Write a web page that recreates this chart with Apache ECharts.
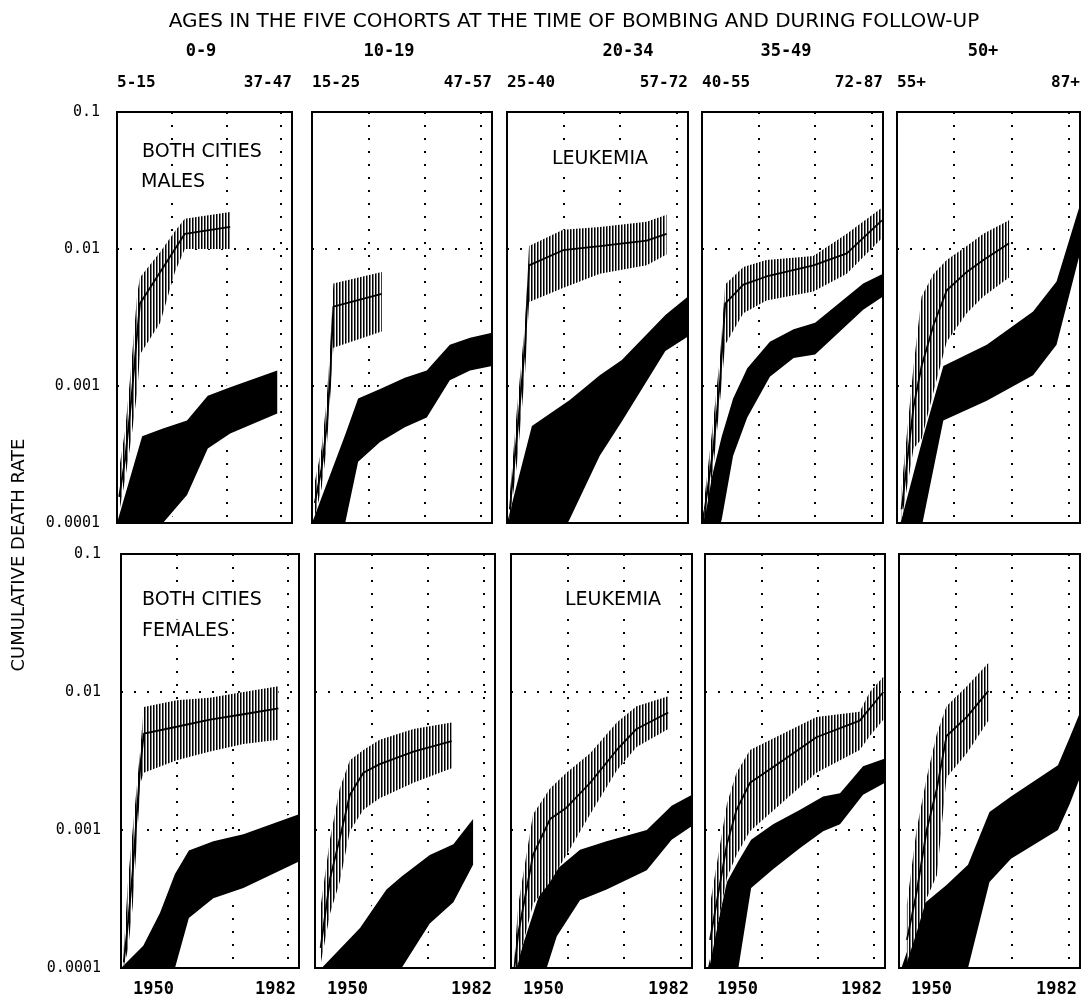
<!DOCTYPE html>
<html><head><meta charset="utf-8">
<script src="https://cdn.jsdelivr.net/npm/echarts@6/dist/echarts.min.js"></script>
<style>html,body{margin:0;padding:0;background:#fff}#chart{width:1084px;height:1003px}</style>
</head><body><div id="chart"></div>
<script>
// ---------- categories & tick labels ----------
const cohorts = ['0-9', '10-19', '20-34', '35-49', '50+'];
const agesAt1950 = ['5-15', '15-25', '25-40', '40-55', '55+'];
const agesAt1982 = ['37-47', '47-57', '57-72', '72-87', '87+'];
const yearLabels = [1950, 1982];
const yTickLabels = ['0.0001', '0.001', '0.01', '0.1'];

// ---------- MALES (top row) ----------
// hatched band = observed cumulative rate with confidence limits; black band = reference range
const M09_obsYears = [1950.4, 1951.5, 1952.6, 1953.7, 1954.2, 1957.9, 1960.6, 1962.4, 1970.7];
const M09_obsLow   = [1.2e-4, 2.1e-4, 4.1e-4, 9.1e-4, 1.7e-3, 2.9e-3, 6.8e-3, 1.0e-2, 1.0e-2];
const M09_obsMid   = [1.55e-4, 2.95e-4, 7.8e-4, 2.45e-3, 4.0e-3, 6.8e-3, 1.0e-2, 1.29e-2, 1.45e-2];
const M09_obsHigh  = [2.5e-4, 4.8e-4, 1.4e-3, 4.7e-3, 6.2e-3, 9.5e-3, 1.35e-2, 1.66e-2, 1.86e-2];
const M09_refYears = [1950, 1954.6, 1958.4, 1962.8, 1966.6, 1970.7, 1979.3];
const M09_refHigh  = [1.0e-4, 4.3e-4, 4.9e-4, 5.6e-4, 8.5e-4, 9.8e-4, 1.3e-3];
const M09_refLow   = [2e-5, 5e-5, 1.0e-4, 1.6e-4, 3.5e-4, 4.5e-4, 6.3e-4];

const M1019_obsYears = [1950.5, 1951.7, 1952.6, 1953.2, 1953.8, 1962.4];
const M1019_obsLow   = [1.1e-4, 1.8e-4, 3.5e-4, 7.9e-4, 1.9e-3, 2.5e-3];
const M1019_obsMid   = [1.4e-4, 2.5e-4, 5.0e-4, 1.1e-3, 3.8e-3, 4.7e-3];
const M1019_obsHigh  = [2.0e-4, 3.5e-4, 7.9e-4, 1.8e-3, 5.6e-3, 6.8e-3];
const M1019_refYears = [1950, 1955.9, 1958.2, 1962.1, 1966.5, 1970.4, 1974.5, 1978.1, 1982];
const M1019_refHigh  = [1.0e-4, 4.4e-4, 8.1e-4, 9.5e-4, 1.15e-3, 1.3e-3, 2.0e-3, 2.25e-3, 2.45e-3];
const M1019_refLow   = [2.5e-5, 1.0e-4, 2.8e-4, 3.9e-4, 5.0e-4, 5.9e-4, 1.1e-3, 1.3e-3, 1.4e-3];

const M2034_obsYears = [1950.5, 1951.8, 1953.2, 1953.9, 1959.9, 1966.4, 1974.7, 1978.2];
const M2034_obsLow   = [1.05e-4, 2.8e-4, 1.26e-3, 4.1e-3, 5.2e-3, 6.6e-3, 7.6e-3, 9.1e-3];
const M2034_obsMid   = [1.26e-4, 4.5e-4, 2.0e-3, 7.6e-3, 9.8e-3, 1.05e-2, 1.15e-2, 1.29e-2];
const M2034_obsHigh  = [1.6e-4, 7.1e-4, 2.9e-3, 1.05e-2, 1.38e-2, 1.45e-2, 1.58e-2, 1.78e-2];
const M2034_refYears = [1950, 1954.4, 1961.1, 1966.4, 1970.3, 1978, 1982];
const M2034_refHigh  = [1.0e-4, 5.1e-4, 7.9e-4, 1.2e-3, 1.55e-3, 3.3e-3, 4.5e-3];
const M2034_refLow   = [1e-5, 3.2e-5, 1.07e-4, 3.1e-4, 5.5e-4, 1.8e-3, 2.3e-3];

const M3549_obsYears = [1950.5, 1952, 1953.2, 1954.1, 1957.3, 1961.4, 1969.7, 1975.6, 1981.8];
const M3549_obsLow   = [1.07e-4, 2.5e-4, 7.9e-4, 2.0e-3, 3.4e-3, 4.2e-3, 4.9e-3, 6.6e-3, 1.2e-2];
const M3549_obsMid   = [1.26e-4, 3.5e-4, 1.1e-3, 4.0e-3, 5.5e-3, 6.3e-3, 7.6e-3, 9.3e-3, 1.62e-2];
const M3549_obsHigh  = [1.6e-4, 5.6e-4, 1.66e-3, 5.5e-3, 7.4e-3, 8.3e-3, 8.9e-3, 1.29e-2, 2.0e-2];
const M3549_refYears = [1950, 1953.5, 1955.5, 1958, 1962, 1966.2, 1970, 1978.5, 1982];
const M3549_refHigh  = [1.1e-4, 4.3e-4, 8.1e-4, 1.35e-3, 2.1e-3, 2.6e-3, 2.9e-3, 5.6e-3, 6.6e-3];
const M3549_refLow   = [3.2e-5, 1.07e-4, 3.1e-4, 5.9e-4, 1.17e-3, 1.6e-3, 1.7e-3, 3.6e-3, 4.5e-3];

const M50_obsYears = [1950.8, 1952.9, 1954.3, 1956.4, 1958.7, 1962.2, 1965.1, 1969.6];
const M50_obsLow   = [1.05e-4, 3.5e-4, 4.1e-4, 9.1e-4, 2.1e-3, 3.4e-3, 4.5e-3, 6.2e-3];
const M50_obsMid   = [1.26e-4, 7.1e-4, 1.4e-3, 2.8e-3, 5.0e-3, 6.8e-3, 8.3e-3, 1.1e-2];
const M50_obsHigh  = [1.8e-4, 1.4e-3, 4.5e-3, 6.6e-3, 8.3e-3, 1.05e-2, 1.29e-2, 1.62e-2];
const M50_refYears = [1950, 1954.6, 1958.1, 1965.7, 1973.8, 1977.9, 1982];
const M50_refHigh  = [8e-5, 4.3e-4, 1.4e-3, 2.0e-3, 3.5e-3, 5.8e-3, 2.1e-2];
const M50_refLow   = [1e-5, 1.07e-4, 5.6e-4, 7.8e-4, 1.2e-3, 2.0e-3, 9.3e-3];

// ---------- FEMALES (bottom row) ----------
const F09_obsYears = [1950.5, 1951.3, 1952.1, 1952.9, 1953.5, 1954.1, 1960, 1966, 1972, 1978.3];
const F09_obsLow   = [1.0e-4, 1.4e-4, 2.8e-4, 8.9e-4, 2.2e-3, 2.6e-3, 3.2e-3, 3.7e-3, 4.2e-3, 4.5e-3];
const F09_obsMid   = [1.1e-4, 2.2e-4, 5.0e-4, 1.4e-3, 3.0e-3, 5.0e-3, 5.6e-3, 6.3e-3, 6.9e-3, 7.6e-3];
const F09_obsHigh  = [1.4e-4, 4.5e-4, 1.0e-3, 2.2e-3, 4.0e-3, 7.8e-3, 8.7e-3, 9.1e-3, 1.0e-2, 1.1e-2];
const F09_refYears = [1950, 1954, 1957, 1959.7, 1962.2, 1966.6, 1972, 1982];
const F09_refHigh  = [1.0e-4, 1.45e-4, 2.5e-4, 4.8e-4, 7.1e-4, 8.3e-4, 9.3e-4, 1.3e-3];
const F09_refLow   = [1e-5, 2.5e-5, 5e-5, 1.0e-4, 2.3e-4, 3.2e-4, 3.8e-4, 5.9e-4];

const F1019_obsYears = [1951, 1952.7, 1954.4, 1956.2, 1958.6, 1961.5, 1967.5, 1974.3];
const F1019_obsLow   = [1.07e-4, 2.5e-4, 4.2e-4, 9.8e-4, 1.4e-3, 1.7e-3, 2.2e-3, 2.8e-3];
const F1019_obsMid   = [1.4e-4, 4.5e-4, 8.7e-4, 1.8e-3, 2.6e-3, 3.0e-3, 3.7e-3, 4.4e-3];
const F1019_obsHigh  = [2.8e-4, 8.7e-4, 2.0e-3, 3.2e-3, 3.8e-3, 4.5e-3, 5.4e-3, 6.0e-3];
const F1019_refYears = [1950, 1958, 1962.7, 1965.4, 1970.4, 1974.6, 1978.1];
const F1019_refHigh  = [8.9e-5, 1.95e-4, 3.7e-4, 4.6e-4, 6.6e-4, 7.9e-4, 1.2e-3];
const F1019_refLow   = [3e-6, 3.2e-5, 7e-5, 1.0e-4, 2.1e-4, 3.0e-4, 5.6e-4];

const F2034_obsYears = [1950.6, 1951.3, 1953.9, 1956.9, 1959.8, 1964, 1968.7, 1972.2, 1977.8];
const F2034_obsLow   = [0.9e-4, 1.1e-4, 2.9e-4, 4.2e-4, 6.6e-4, 1.3e-3, 2.7e-3, 4.0e-3, 5.4e-3];
const F2034_obsMid   = [1.0e-4, 1.8e-4, 6.6e-4, 1.2e-3, 1.45e-3, 2.2e-3, 3.8e-3, 5.4e-3, 7.1e-3];
const F2034_obsHigh  = [1.2e-4, 2.9e-4, 1.3e-3, 2.0e-3, 2.6e-3, 3.6e-3, 6.0e-3, 7.9e-3, 9.3e-3];
const F2034_refYears = [1950, 1955.1, 1958.1, 1962.2, 1966.9, 1974, 1978.4, 1982];
const F2034_refHigh  = [8e-5, 3.5e-4, 5.2e-4, 7.2e-4, 8.3e-4, 1.0e-3, 1.5e-3, 1.8e-3];
const F2034_refLow   = [1e-5, 7e-5, 1.7e-4, 3.1e-4, 3.7e-4, 5.1e-4, 8.5e-4, 1.07e-3];

const F3549_obsYears = [1950.9, 1953.9, 1955.6, 1958, 1963.9, 1969.8, 1977.5, 1979.3, 1981.7];
const F3549_obsLow   = [1.07e-4, 4.5e-4, 6.6e-4, 9.8e-4, 1.6e-3, 2.6e-3, 3.8e-3, 4.8e-3, 6.3e-3];
const F3549_obsMid   = [1.6e-4, 7.9e-4, 1.4e-3, 2.2e-3, 3.2e-3, 4.7e-3, 6.2e-3, 7.6e-3, 1.0e-2];
const F3549_obsHigh  = [2.9e-4, 1.55e-3, 2.6e-3, 3.8e-3, 5.0e-3, 6.6e-3, 7.2e-3, 1.0e-2, 1.29e-2];
const F3549_refYears = [1950, 1953.9, 1955.9, 1958.2, 1962.1, 1966.9, 1971, 1974, 1978.1, 1982];
const F3549_refHigh  = [8e-5, 4.2e-4, 5.9e-4, 8.5e-4, 1.1e-3, 1.4e-3, 1.75e-3, 1.85e-3, 2.9e-3, 3.3e-3];
const F3549_refLow   = [1e-5, 4e-5, 9.8e-5, 3.8e-4, 5.2e-4, 7.4e-4, 9.8e-4, 1.1e-3, 1.8e-3, 2.2e-3];

const F50_obsYears = [1951.4, 1953.1, 1954.9, 1956.7, 1958.4, 1962, 1965.8];
const F50_obsLow   = [1.1e-4, 1.8e-4, 3.2e-4, 4.7e-4, 2.4e-3, 3.6e-3, 6.2e-3];
const F50_obsMid   = [1.6e-4, 3.5e-4, 1.0e-3, 2.0e-3, 4.8e-3, 6.6e-3, 1.02e-2];
const F50_obsHigh  = [2.9e-4, 1.0e-3, 2.4e-3, 5.0e-3, 7.9e-3, 1.1e-2, 1.62e-2];
const F50_refYears = [1950, 1954.3, 1958.4, 1962.2, 1966, 1969.8, 1978.1, 1980.2, 1982];
const F50_refHigh  = [8.9e-5, 2.9e-4, 4.0e-4, 5.6e-4, 1.35e-3, 1.75e-3, 2.95e-3, 4.7e-3, 7.1e-3];
const F50_refLow   = [3e-6, 2e-5, 5e-5, 1.0e-4, 4.2e-4, 6.2e-4, 1.0e-3, 1.55e-3, 2.4e-3];

// ---------- panel assembly ----------
const panels = [
  { row: 0, col: 0, obs: [M09_obsYears, M09_obsLow, M09_obsMid, M09_obsHigh], ref: [M09_refYears, M09_refLow, M09_refHigh] },
  { row: 0, col: 1, obs: [M1019_obsYears, M1019_obsLow, M1019_obsMid, M1019_obsHigh], ref: [M1019_refYears, M1019_refLow, M1019_refHigh] },
  { row: 0, col: 2, obs: [M2034_obsYears, M2034_obsLow, M2034_obsMid, M2034_obsHigh], ref: [M2034_refYears, M2034_refLow, M2034_refHigh] },
  { row: 0, col: 3, obs: [M3549_obsYears, M3549_obsLow, M3549_obsMid, M3549_obsHigh], ref: [M3549_refYears, M3549_refLow, M3549_refHigh] },
  { row: 0, col: 4, obs: [M50_obsYears, M50_obsLow, M50_obsMid, M50_obsHigh], ref: [M50_refYears, M50_refLow, M50_refHigh] },
  { row: 1, col: 0, obs: [F09_obsYears, F09_obsLow, F09_obsMid, F09_obsHigh], ref: [F09_refYears, F09_refLow, F09_refHigh] },
  { row: 1, col: 1, obs: [F1019_obsYears, F1019_obsLow, F1019_obsMid, F1019_obsHigh], ref: [F1019_refYears, F1019_refLow, F1019_refHigh] },
  { row: 1, col: 2, obs: [F2034_obsYears, F2034_obsLow, F2034_obsMid, F2034_obsHigh], ref: [F2034_refYears, F2034_refLow, F2034_refHigh] },
  { row: 1, col: 3, obs: [F3549_obsYears, F3549_obsLow, F3549_obsMid, F3549_obsHigh], ref: [F3549_refYears, F3549_refLow, F3549_refHigh] },
  { row: 1, col: 4, obs: [F50_obsYears, F50_obsLow, F50_obsMid, F50_obsHigh], ref: [F50_refYears, F50_refLow, F50_refHigh] }
];

// ---------- layout ----------
const rowTop = [112, 554];
const rowHeight = [411, 414];
const colLeft = [[117, 312, 507, 702, 897], [121, 315, 511, 705, 899]];
const colWidth = [[175, 180, 181, 181, 183], [178, 180, 181, 180, 181]];
const MONO = '"DejaVu Sans Mono", "Liberation Mono", monospace';
const SANS = '"DejaVu Sans", "Noto Sans", sans-serif';
const dotted = { color: '#000', width: 2, type: [2, 11] };

// hatch pattern (dense vertical lines)
const hatchCanvas = document.createElement('canvas');
hatchCanvas.width = 3; hatchCanvas.height = 6;
const hctx = hatchCanvas.getContext('2d');
hctx.fillStyle = '#fff'; hctx.fillRect(0, 0, 3, 6);
hctx.fillStyle = '#000'; hctx.fillRect(0, 0, 1, 6);
hctx.fillStyle = '#777'; hctx.fillRect(1, 0, 1, 6);
const hatchFill = { image: hatchCanvas, repeat: 'repeat' };

function bandSeries(idx, years, low, high, fill, z, halo) {
  return {
    type: 'custom', coordinateSystem: 'cartesian2d',
    xAxisIndex: idx, yAxisIndex: idx, z: z, silent: true, animation: false,
    data: [[years[0], high[0]]],
    renderItem: function (params, api) {
      const pts = [];
      for (let k = 0; k < years.length; k++) pts.push(api.coord([years[k], high[k]]));
      for (let k = years.length - 1; k >= 0; k--) pts.push(api.coord([years[k], low[k]]));
      const cs = params.coordSys;
      const children = [];
      if (halo) children.push({ type: 'polygon', shape: { points: pts }, style: { fill: null, stroke: '#fff', lineWidth: halo, lineJoin: 'round' } });
      children.push({ type: 'polygon', shape: { points: pts }, style: { fill: fill, stroke: null } });
      return {
        type: 'group',
        clipPath: { type: 'rect', shape: { x: cs.x, y: cs.y, width: cs.width, height: cs.height } },
        children: children
      };
    }
  };
}

const grids = [], xAxes = [], yAxes = [], series = [];
panels.forEach(function (p, i) {
  const r = p.row, c = p.col;
  grids.push({
    left: colLeft[r][c], top: rowTop[r], width: colWidth[r][c], height: rowHeight[r],
    show: true, borderColor: '#000', borderWidth: 2, backgroundColor: 'transparent', z: 6
  });
  const isTop = r === 0;
  xAxes.push({
    gridIndex: i, type: 'value', min: 1950, max: 1982, interval: 10,
    position: isTop ? 'top' : 'bottom',
    axisLine: { show: false }, axisTick: { show: false },
    splitLine: { show: true, showMinLine: false, showMaxLine: false, lineStyle: dotted },
    axisLabel: {
      show: true,
      customValues: yearLabels,
      alignMinLabel: 'left', alignMaxLabel: 'right',
      showMinLabel: true, showMaxLabel: true,
      margin: isTop ? 21 : 13,
      padding: isTop ? [0, 0, 0, 0] : [0, 3, 0, 12],
      color: '#000', fontFamily: MONO, fontWeight: 'bold', fontSize: isTop ? 16 : 17,
      formatter: function (v) {
        if (isTop) return v === yearLabels[0] ? agesAt1950[c] : (v === yearLabels[1] ? agesAt1982[c] : '');
        return (v === yearLabels[0] || v === yearLabels[1]) ? String(v) : '';
      }
    }
  });
  yAxes.push({
    gridIndex: i, type: 'log', logBase: 10, min: 0.0001, max: 0.1,
    axisLine: { show: false }, axisTick: { show: false },
    splitLine: { show: true, showMinLine: false, showMaxLine: false, lineStyle: dotted },
    axisLabel: {
      show: c === 0, showMinLabel: true, showMaxLabel: true,
      margin: r === 0 ? 17 : 20, color: '#000', fontFamily: MONO, fontSize: 15,
      formatter: function (v) { return yTickLabels[Math.round(Math.log10(v)) + 4]; }
    }
  });
  const [oy, olo, omid, ohi] = p.obs;
  const [ry, rlo, rhi] = p.ref;
  series.push(bandSeries(i, ry, rlo, rhi, '#000', 2, 6));
  series.push(bandSeries(i, oy, olo, ohi, hatchFill, 3, 0));
  series.push({
    type: 'line', xAxisIndex: i, yAxisIndex: i, z: 4, silent: true, animation: false,
    data: oy.map(function (y, k) { return [y, omid[k]]; }),
    symbol: 'none', showSymbol: false, clip: true,
    lineStyle: { color: '#000', width: 1.8 }
  });
});

function panelText(x, y, text, align) {
  return { type: 'text', x: x, y: y, z: 20,
    style: { text: text, fill: '#000', font: '19px ' + SANS, align: align, verticalAlign: 'middle',
             backgroundColor: '#fff', padding: [2, 3, 2, 3] } };
}

const headerX = [201, 389, 628, 786, 983];
const graphics = [
  { type: 'text', x: 574, y: 22, style: { text: 'AGES IN THE FIVE COHORTS AT THE TIME OF BOMBING AND DURING FOLLOW-UP', fill: '#000', font: '20px ' + SANS, align: 'center', verticalAlign: 'middle' } },
  { type: 'text', x: 19, y: 555, rotation: Math.PI / 2, style: { text: 'CUMULATIVE DEATH RATE', fill: '#000', font: '18px ' + SANS, align: 'center', verticalAlign: 'middle' } },
  panelText(139, 152, 'BOTH CITIES', 'left'),
  panelText(138, 182, 'MALES', 'left'),
  panelText(600, 159, 'LEUKEMIA', 'center'),
  panelText(139, 600, 'BOTH CITIES', 'left'),
  panelText(139, 631, 'FEMALES', 'left'),
  panelText(613, 600, 'LEUKEMIA', 'center')
];
cohorts.forEach(function (name, c) {
  graphics.push({ type: 'text', x: headerX[c], y: 52, style: { text: name, fill: '#000', font: 'bold 17px ' + MONO, align: 'center', verticalAlign: 'middle' } });
});

const chart = echarts.init(document.getElementById('chart'), null, { renderer: 'canvas' });
chart.setOption({
  backgroundColor: '#fff',
  animation: false,
  grid: grids, xAxis: xAxes, yAxis: yAxes, series: series,
  graphic: graphics
});
</script>
</body></html>
